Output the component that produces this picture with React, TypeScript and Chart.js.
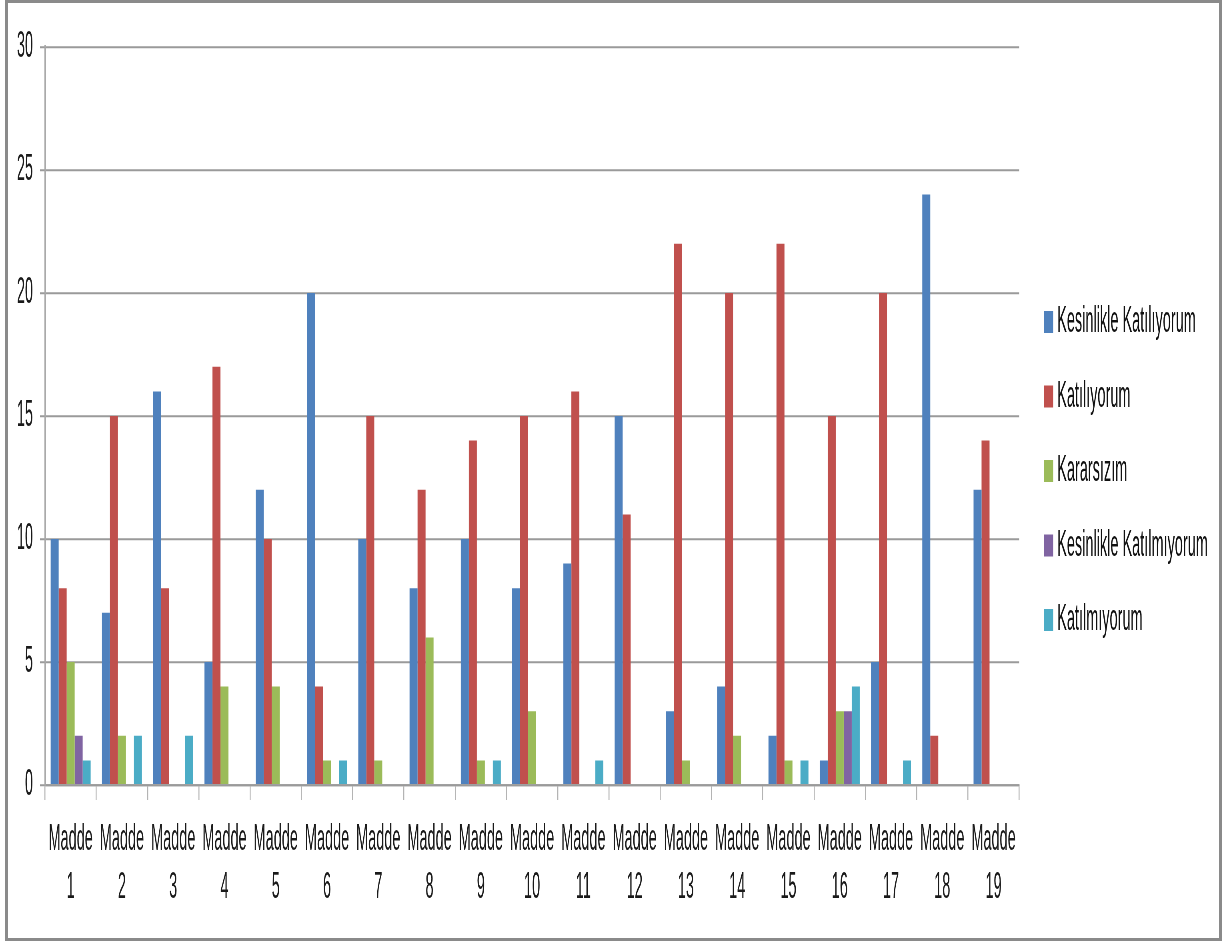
import React, { useEffect, useRef } from "react";
import { Chart, registerables } from "chart.js";

Chart.register(...registerables);

const categories: string[][] = Array.from({ length: 19 }, (_, i) => ["Madde", String(i + 1)]);

const seriesNames = [
  "Kesinlikle Katılıyorum",
  "Katılıyorum",
  "Kararsızım",
  "Kesinlikle Katılmıyorum",
  "Katılmıyorum",
];

const kesinlikleKatiliyorum = [10, 7, 16, 5, 12, 20, 10, 8, 10, 8, 9, 15, 3, 4, 2, 1, 5, 24, 12];
const katiliyorum = [8, 15, 8, 17, 10, 4, 15, 12, 14, 15, 16, 11, 22, 20, 22, 15, 20, 2, 14];
const kararsizim = [5, 2, 0, 4, 4, 1, 1, 6, 1, 3, 0, 0, 1, 2, 1, 3, 0, 0, 0];
const kesinlikleKatilmiyorum = [2, 0, 0, 0, 0, 0, 0, 0, 0, 0, 0, 0, 0, 0, 0, 3, 0, 0, 0];
const katilmiyorum = [1, 2, 2, 0, 0, 1, 0, 0, 1, 0, 1, 0, 0, 0, 1, 4, 1, 0, 0];

const yTicks = [0, 5, 10, 15, 20, 25, 30];

const colors = ["#4F81BD", "#C0504D", "#9BBB59", "#8064A2", "#4BACC6"];

const FONT = "'Liberation Sans', Arial, sans-serif";

// The original chart is stretched vertically; the canvas is drawn at a logical
// height and displayed taller (STRETCH) to reproduce that look.
const STRETCH = 2.5;
const CANVAS_W = 1211;
const CANVAS_H = 935;

const sideLegend = {
  id: "sideLegend",
  afterDraw(chart: any) {
    const ctx = chart.ctx as CanvasRenderingContext2D;
    const area = chart.chartArea;
    ctx.save();
    ctx.font = `14.5px ${FONT}`;
    ctx.textBaseline = "middle";
    ctx.textAlign = "left";
    chart.data.datasets.forEach((ds: any, i: number) => {
      const y = 127.6 + i * 29.8;
      ctx.fillStyle = ds.backgroundColor;
      ctx.fillRect(area.right + 25, y - 4.4, 9, 8.8);
      ctx.fillStyle = "#111111";
      ctx.fillText(ds.label, area.right + 38, y);
    });
    ctx.restore();
  },
};

export default function App() {
  const canvasRef = useRef<HTMLCanvasElement | null>(null);

  useEffect(() => {
    if (!canvasRef.current) return;
    const values = [kesinlikleKatiliyorum, katiliyorum, kararsizim, kesinlikleKatilmiyorum, katilmiyorum];
    const chart = new Chart(canvasRef.current, {
      type: "bar",
      data: {
        labels: categories,
        datasets: seriesNames.map((name, i) => ({
          label: name,
          data: values[i],
          backgroundColor: colors[i],
          borderWidth: 0,
          categoryPercentage: 0.78,
          barPercentage: 1.0,
        })),
      },
      options: {
        responsive: false,
        animation: false,
        devicePixelRatio: STRETCH,
        layout: { padding: { top: 17.6, right: 200, bottom: 0, left: 0 } },
        plugins: {
          legend: { display: false },
          tooltip: { enabled: false },
        },
        scales: {
          x: {
            grid: {
              drawOnChartArea: false,
              drawTicks: true,
              tickLength: 6,
              color: "#b4b4b4",
              lineWidth: 1,
              offset: true,
            },
            border: { display: true, color: "#9a9a9a", width: 0.8 },
            ticks: {
              autoSkip: false,
              maxRotation: 0,
              minRotation: 0,
              padding: 6.4,
              color: "#1a1a1a",
              font: { family: FONT, size: 14.5, lineHeight: 1.324 },
            },
            afterFit(scale: any) {
              scale.height = 61.2;
            },
          },
          y: {
            min: 0,
            max: 30,
            afterBuildTicks(scale: any) {
              scale.ticks = yTicks.map((v) => ({ value: v }));
            },
            grid: {
              color: "#9a9a9a",
              lineWidth: 0.8,
              tickLength: 5,
              drawTicks: true,
            },
            border: { display: true, color: "#a6a6a6", width: 1.5 },
            ticks: {
              padding: 7,
              color: "#1a1a1a",
              font: { family: FONT, size: 14.5 },
            },
            afterFit(scale: any) {
              scale.width = 37;
            },
          },
        },
      },
      plugins: [sideLegend],
    });
    return () => chart.destroy();
  }, []);

  return (
    <div
      style={{
        position: "absolute",
        left: 5,
        top: 0,
        width: CANVAS_W + 6,
        height: CANVAS_H + 6,
        border: "3px solid #8a8a8a",
        boxSizing: "border-box",
        background: "#ffffff",
      }}
    >
      <canvas
        ref={canvasRef}
        width={CANVAS_W}
        height={CANVAS_H / STRETCH}
        style={{ display: "block", width: `${CANVAS_W}px`, height: `${CANVAS_H}px` }}
      />
    </div>
  );
}
